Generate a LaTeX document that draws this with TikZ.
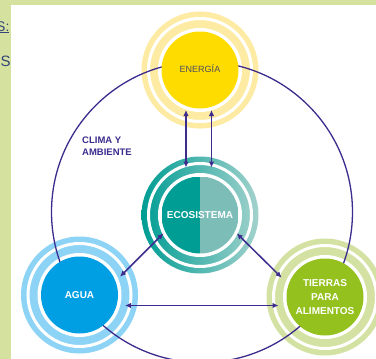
\documentclass[tikz,border=0pt]{standalone}
\usepackage{fontspec}
\setmainfont{Liberation Sans}
\usetikzlibrary{arrows.meta,calc}
\definecolor{bggreen}{HTML}{D4E19F}
\definecolor{purp}{HTML}{3D2C8D}
\definecolor{sidetxt}{HTML}{34437A}
\definecolor{yelD}{HTML}{FFDC00}
\definecolor{yelL}{HTML}{FDEBA3}
\definecolor{bluD}{HTML}{009FE3}
\definecolor{bluL}{HTML}{8DD3F5}
\definecolor{grnD}{HTML}{95C11F}
\definecolor{grnL}{HTML}{D3E2A2}
\definecolor{tealD}{HTML}{009D94}
\definecolor{tealR}{HTML}{7DBDB7}
\definecolor{tealRingR}{HTML}{A3D2CD}
\definecolor{enetxt}{HTML}{4D4D5F}
\begin{document}
\begin{tikzpicture}[x=1pt,y=-1pt,
  inner/.style={circle,minimum size=77pt,inner sep=0pt,text=white,align=center},
  whiteline/.style={draw=white,line width=3pt},
  bigring/.style={draw=purp,line width=1.3pt},
  arr/.style={draw=purp,line width=1.5pt,{Latex[length=6pt,width=5.5pt]}-{Latex[length=6pt,width=5.5pt]}},
  lbl/.style={font=\bfseries\fontsize{10}{14}\selectfont}]
\useasboundingbox (0,0) rectangle (376,359);
\fill[bggreen] (0,0) rectangle (376,359);
\fill[white] (11,4.7) rectangle (376,359);
% cut-off side text
\node[anchor=base east,inner sep=0pt,text=sidetxt,font=\fontsize{14}{14}\selectfont] (s1) at (9.6,31) {\underline{S:}};
\node[anchor=base east,inner sep=0pt,text=sidetxt,font=\fontsize{15}{15}\selectfont] (s2) at (10.8,66.5) {S};
% centres
\coordinate (cE) at (200,70);
\coordinate (cC) at (200,215);
\coordinate (cA) at (79.5,295);
\coordinate (cT) at (325,297);
\coordinate (cBig) at (202,212);
% outer rings
\fill[yelL] (cE) circle[radius=58.5];
\shade[left color=tealD,right color=tealRingR] (cC) circle[radius=58.5];
\fill[bluL] (cA) circle[radius=58.5];
\fill[grnL] (cT) circle[radius=58.5];
\foreach \c in {cE,cC,cA,cT}{
  \draw[whiteline] (\c) circle[radius=51.5];
  \fill[white] (\c) circle[radius=42];
}
% climate circle
\draw[bigring] (cBig) circle[radius=150.5];
% inner discs
\node[inner,fill=yelD,text=enetxt,font=\fontsize{9}{10}\selectfont] (ene) at (cE) {\raisebox{3pt}{ENERGÍA}};
\node[inner,lbl,path picture={
   \fill[tealD] (path picture bounding box.north west) rectangle (path picture bounding box.south);
   \fill[tealR] (path picture bounding box.north) rectangle (path picture bounding box.south east);}] (eco) at (cC) {ECOSISTEMA};
\node[inner,fill=bluD,lbl] (agua) at (cA) {\raisebox{-2pt}{AGUA}};
\node[inner,fill=grnD,lbl] (tie) at (cT) {TIERRAS\\PARA\\ALIMENTOS};
% label
\node[anchor=north west,inner sep=0pt,align=left,text=purp,font=\bfseries\fontsize{9.5}{12.4}\selectfont] (clima) at (82,136.5) {CLIMA Y\\AMBIENTE};
% arrows
\draw[arr] ($(ene.center)+(-14,40)$) -- ($(eco.center)+(-14,-47.5)$);
\draw[arr] ($(ene.center)+(11.5,40)$) -- ($(eco.center)+(11.5,-47.5)$);
\draw[arr] ($(eco.center)+(-36.5,18.3)$) -- ($(agua.center)+(40.5,-18.3)$);
\draw[arr] ($(eco.center)+(36.7,18.3)$) -- ($(tie.center)+(-43.3,-19.3)$);
\draw[arr] ($(agua.center)+(45.5,10.5)$) -- ($(tie.center)+(-46.5,8.5)$);
\end{tikzpicture}
\end{document}
